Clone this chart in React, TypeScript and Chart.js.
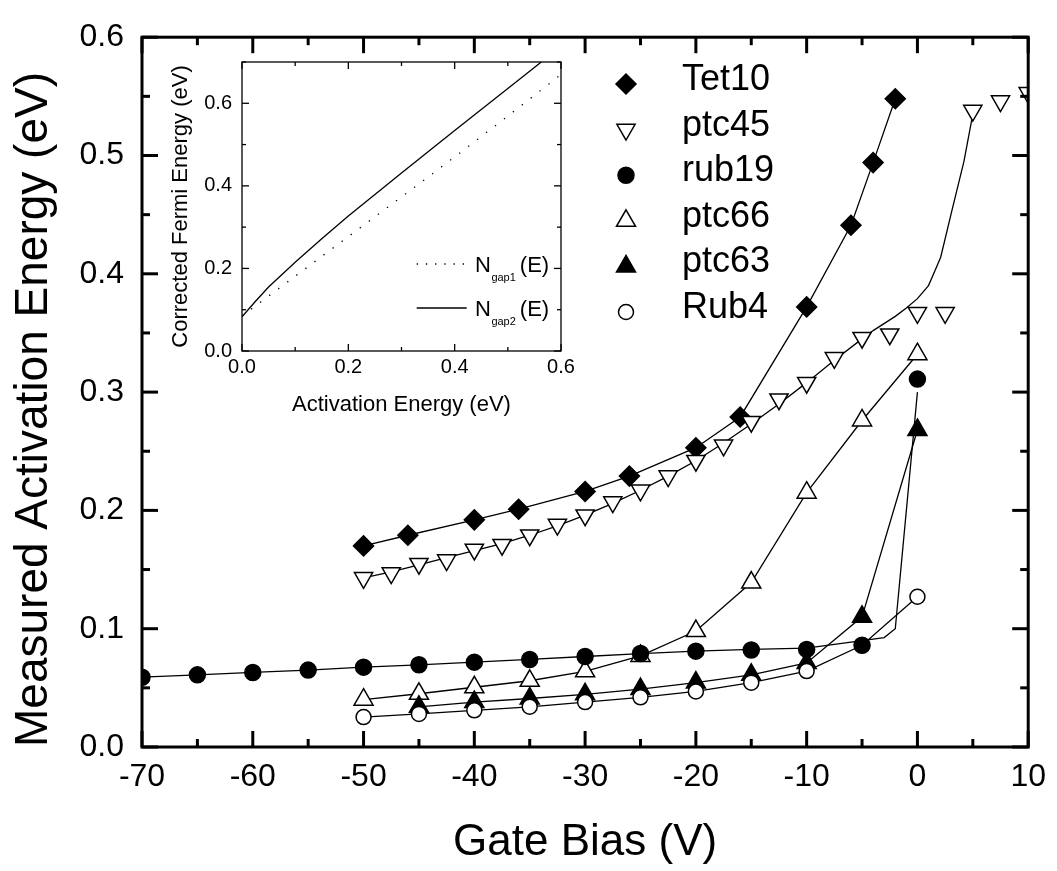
import React, { useEffect, useRef } from 'react';
import { Chart, registerables } from 'chart.js';
import { drawPoint } from 'chart.js/helpers';

Chart.register(...registerables);

const FONT = "'Liberation Sans', Arial, Helvetica, sans-serif";

// ---------- main chart data ----------
const xTickValues = [-70, -60, -50, -40, -30, -20, -10, 0, 10];
const yTickValues = [0, 0.1, 0.2, 0.3, 0.4, 0.5, 0.6];

const gateTet10 = [-50, -46, -40, -36, -30, -26, -20, -16, -10, -6, -4, -2];
const eTet10 = [0.170, 0.179, 0.192, 0.201, 0.216, 0.229, 0.253, 0.279, 0.372, 0.441, 0.494, 0.548];

const gatePtc45 = [-50, -47.5, -45, -42.5, -40, -37.5, -35, -32.5, -30, -27.5, -25, -22.5, -20, -17.5, -15, -12.5, -10, -7.5, -5, -2.5, 0, 2.5, 5, 7.5, 10];
const ePtc45 = [0.143, 0.147, 0.155, 0.158, 0.167, 0.171, 0.179, 0.188, 0.196, 0.207, 0.217, 0.229, 0.242, 0.255, 0.275, 0.294, 0.308, 0.329, 0.346, 0.349, 0.367, 0.367, 0.538, 0.546, 0.553];
const fitGatePtc45 = [-50, -47.5, -45, -42.5, -40, -37.5, -35, -32.5, -30, -27.5, -25, -22.5, -20, -17.5, -15, -12.5, -10, -7.5, -5, -4, -2, -1, 0, 1, 1.6, 2.1, 3.1, 4.2, 5];
const fitPtc45 = [0.143, 0.148, 0.154, 0.160, 0.166, 0.172, 0.179, 0.187, 0.196, 0.206, 0.217, 0.229, 0.242, 0.257, 0.273, 0.290, 0.308, 0.327, 0.345, 0.352, 0.364, 0.371, 0.379, 0.390, 0.403, 0.414, 0.453, 0.495, 0.535];

const gateRub19 = [-70, -65, -60, -55, -50, -45, -40, -35, -30, -25, -20, -15, -10, -5, 0];
const eRub19 = [0.059, 0.061, 0.063, 0.065, 0.0675, 0.0695, 0.0717, 0.074, 0.0765, 0.079, 0.081, 0.082, 0.0825, 0.086, 0.311];
const fitGateRub19 = [-70, -65, -60, -55, -50, -45, -40, -35, -30, -25, -20, -15, -10, -3, -2, 0];
const fitRub19 = [0.059, 0.061, 0.063, 0.065, 0.0675, 0.0695, 0.0717, 0.074, 0.0765, 0.079, 0.081, 0.0825, 0.0835, 0.0925, 0.100, 0.300];

const gatePtc66 = [-50, -45, -40, -35, -30, -25, -20, -15, -10, -5, 0];
const ePtc66 = [0.040, 0.045, 0.0505, 0.056, 0.064, 0.077, 0.098, 0.139, 0.215, 0.276, 0.332];

const gatePtc63 = [-45, -40, -35, -30, -25, -20, -15, -10, -5, 0];
const ePtc63 = [0.034, 0.038, 0.041, 0.0445, 0.049, 0.0545, 0.061, 0.071, 0.110, 0.268];

const gateRub4 = [-50, -45, -40, -35, -30, -25, -20, -15, -10, -5, 0];
const eRub4 = [0.0253, 0.028, 0.031, 0.034, 0.038, 0.042, 0.047, 0.0544, 0.0642, 0.086, 0.127];

const legendNames = ['Tet10', 'ptc45', 'rub19', 'ptc66', 'ptc63', 'Rub4'];

// ---------- inset data ----------
const insetXTicks = [0, 0.2, 0.4, 0.6];
const insetYTicks = [0, 0.2, 0.4, 0.6];
const actE1 = [0, 0.05, 0.1, 0.15, 0.2, 0.3, 0.4, 0.5, 0.6];
const fermiNgap1 = [0.085, 0.133, 0.181, 0.229, 0.277, 0.373, 0.470, 0.569, 0.670];
const actE2 = [0, 0.025, 0.05, 0.1, 0.15, 0.2, 0.3, 0.4, 0.5, 0.563];
const fermiNgap2 = [0.083, 0.12, 0.155, 0.215, 0.272, 0.327, 0.431, 0.534, 0.636, 0.70];

const toXY = (xs: number[], ys: number[]) => xs.map((x, i) => ({ x, y: ys[i] }));

const LINE_W = 1.3;

function strokeLine(ctx: CanvasRenderingContext2D, x1: number, y1: number, x2: number, y2: number) {
  ctx.beginPath();
  ctx.moveTo(x1, y1);
  ctx.lineTo(x2, y2);
  ctx.stroke();
}

const mainFramePlugin = {
  id: 'mainFrame',
  afterDatasetsDraw(chart: any) {
    const { ctx, chartArea: a, scales } = chart;
    const xs = scales.x;
    const ys = scales.y;
    ctx.save();
    ctx.strokeStyle = '#000';
    ctx.lineWidth = 3;
    ctx.strokeRect(a.left, a.top, a.right - a.left, a.bottom - a.top);
    for (let k = 0; k <= 16; k++) {
      const v = -70 + k * 5;
      const px = xs.getPixelForValue(v);
      const len = k % 2 === 0 ? 16 : 8;
      strokeLine(ctx, px, a.bottom, px, a.bottom - len);
      strokeLine(ctx, px, a.top, px, a.top + len);
    }
    for (let k = 0; k <= 12; k++) {
      const v = k * 0.05;
      const py = ys.getPixelForValue(v);
      const len = k % 2 === 0 ? 16 : 8;
      strokeLine(ctx, a.left, py, a.left + len, py);
      strokeLine(ctx, a.right, py, a.right - len, py);
    }
    ctx.restore();
  },
  afterDraw(chart: any) {
    const { ctx } = chart;
    const order = [5, 4, 0, 3, 2, 1];
    ctx.save();
    legendNames.forEach((name, i) => {
      const ds = chart.data.datasets[order[i]];
      const y = 80 + i * 45.6;
      ctx.fillStyle = ds.pointBackgroundColor;
      ctx.strokeStyle = ds.pointBorderColor;
      ctx.lineWidth = ds.pointBorderWidth;
      drawPoint(ctx, { pointStyle: ds.pointStyle, rotation: ds.pointRotation || 0, radius: ds.pointRadius, borderWidth: ds.pointBorderWidth }, 626, y + 4);
      ctx.fillStyle = '#000';
      ctx.font = `36px ${FONT}`;
      ctx.textBaseline = 'middle';
      ctx.textAlign = 'left';
      ctx.fillText(name, 682, y);
    });
    ctx.restore();
  },
};

const insetPlugin = {
  id: 'insetFrame',
  afterDatasetsDraw(chart: any) {
    const { ctx, chartArea: a, scales } = chart;
    const xs = scales.x;
    const ys = scales.y;
    ctx.save();
    ctx.strokeStyle = '#000';
    ctx.lineWidth = 1.3;
    ctx.setLineDash([]);
    ctx.strokeRect(a.left, a.top, a.right - a.left, a.bottom - a.top);
    for (let k = 0; k <= 6; k++) {
      const px = xs.getPixelForValue(k * 0.1);
      const len = k % 2 === 0 ? 7 : 4;
      strokeLine(ctx, px, a.bottom, px, a.bottom - len);
      strokeLine(ctx, px, a.top, px, a.top + len);
    }
    for (let k = 0; k <= 7; k++) {
      const py = ys.getPixelForValue(k * 0.1);
      const len = k % 2 === 0 ? 7 : 4;
      strokeLine(ctx, a.left, py, a.left + len, py);
      strokeLine(ctx, a.right, py, a.right - len, py);
    }
    // legend
    const rows = [
      { y: 224, dash: [1.3, 7.9], sub: 'gap1' },
      { y: 268, dash: [], sub: 'gap2' },
    ];
    rows.forEach((r) => {
      ctx.setLineDash(r.dash);
      ctx.lineWidth = LINE_W;
      strokeLine(ctx, 266.7, r.y, 316.7, r.y);
      ctx.setLineDash([]);
      ctx.fillStyle = '#000';
      ctx.textBaseline = 'alphabetic';
      ctx.textAlign = 'left';
      const base = r.y + 8;
      let x = 325;
      ctx.font = `22px ${FONT}`;
      ctx.fillText('N', x, base);
      x += ctx.measureText('N').width + 0.5;
      ctx.font = `11px ${FONT}`;
      ctx.fillText(r.sub, x, base + 9);
      x += ctx.measureText(r.sub).width + 4;
      ctx.font = `22px ${FONT}`;
      ctx.fillText('(E)', x, base);
    });
    ctx.restore();
  },
};

export default function App() {
  const mainRef = useRef<HTMLCanvasElement | null>(null);
  const insetRef = useRef<HTMLCanvasElement | null>(null);

  useEffect(() => {
    if (!mainRef.current || !insetRef.current) return;
    const tickFont = { family: FONT, size: 32 };
    const main = new Chart(mainRef.current, {
      type: 'scatter',
      data: {
        datasets: [
          { label: 'rub19', data: toXY(gateRub19, eRub19), showLine: false, pointStyle: 'circle', pointRadius: 8, pointBackgroundColor: '#000', pointBorderColor: '#000', pointBorderWidth: 1.5, order: 0 },
          { label: 'Rub4', data: toXY(gateRub4, eRub4), showLine: true, borderColor: '#000', borderWidth: LINE_W, pointStyle: 'circle', pointRadius: 7.5, pointBackgroundColor: '#fff', pointBorderColor: '#000', pointBorderWidth: 1.5, order: 1 },
          { label: 'ptc63', data: toXY(gatePtc63, ePtc63), showLine: true, borderColor: '#000', borderWidth: LINE_W, pointStyle: 'triangle', pointRadius: 11, pointBackgroundColor: '#000', pointBorderColor: '#000', pointBorderWidth: 1.5, order: 2 },
          { label: 'ptc66', data: toXY(gatePtc66, ePtc66), showLine: true, borderColor: '#000', borderWidth: LINE_W, pointStyle: 'triangle', pointRadius: 11, pointBackgroundColor: '#fff', pointBorderColor: '#000', pointBorderWidth: 1.5, order: 3 },
          { label: 'ptc45', data: toXY(gatePtc45, ePtc45), showLine: false, pointStyle: 'triangle', pointRotation: 180, pointRadius: 10.5, pointBackgroundColor: '#fff', pointBorderColor: '#000', pointBorderWidth: 1.5, order: 4 },
          { label: 'Tet10', data: toXY(gateTet10, eTet10), showLine: true, borderColor: '#000', borderWidth: LINE_W, pointStyle: 'rectRot', pointRadius: 10, pointBackgroundColor: '#000', pointBorderColor: '#000', pointBorderWidth: 1.5, order: 5 },
          { label: 'ptc45 fit', data: toXY(fitGatePtc45, fitPtc45), showLine: true, borderColor: '#000', borderWidth: LINE_W, pointRadius: 0, order: 6 },
          { label: 'rub19 fit', data: toXY(fitGateRub19, fitRub19), showLine: true, borderColor: '#000', borderWidth: LINE_W, pointRadius: 0, order: 7 },
        ] as any,
      },
      options: {
        animation: false,
        responsive: false,
        maintainAspectRatio: false,
        events: [],
        layout: { padding: { left: 0, right: 24, top: 27, bottom: 0 } },
        plugins: { legend: { display: false }, tooltip: { enabled: false } },
        scales: {
          x: {
            type: 'linear',
            min: -70,
            max: 10,
            afterBuildTicks: (s: any) => { s.ticks = xTickValues.map((v) => ({ value: v })); },
            afterFit: (s: any) => { s.height = 124; },
            ticks: { font: tickFont, color: '#000', padding: 11, maxRotation: 0, autoSkip: false, callback: (v: any) => String(v) },
            grid: { display: false, drawTicks: false },
            border: { display: false },
            title: { display: true, text: 'Gate Bias (V)', color: '#000', font: { family: FONT, size: 44 }, padding: { top: 0, bottom: 2 } },
          },
          y: {
            type: 'linear',
            min: 0,
            max: 0.6,
            afterBuildTicks: (s: any) => { s.ticks = yTickValues.map((v) => ({ value: v })); },
            afterFit: (s: any) => { s.width = 142; },
            ticks: { font: tickFont, color: '#000', padding: 18, autoSkip: false, callback: (v: any) => Number(v).toFixed(1) },
            grid: { display: false, drawTicks: false },
            border: { display: false },
            title: { display: true, text: 'Measured Activation Energy (eV)', align: 'start', color: '#000', font: { family: FONT, size: 46 }, padding: { top: 7, bottom: 0 } },
          },
        },
      } as any,
      plugins: [mainFramePlugin],
    });

    const inset = new Chart(insetRef.current, {
      type: 'scatter',
      data: {
        datasets: [
          { label: 'Ngap1(E)', data: toXY(actE1, fermiNgap1), showLine: true, borderColor: '#000', borderWidth: LINE_W, borderDash: [1.3, 10], pointRadius: 0 },
          { label: 'Ngap2(E)', data: toXY(actE2, fermiNgap2), showLine: true, borderColor: '#000', borderWidth: LINE_W, pointRadius: 0 },
        ] as any,
      },
      options: {
        animation: false,
        responsive: false,
        maintainAspectRatio: false,
        events: [],
        layout: { padding: { left: 0, right: 39, top: 19, bottom: 0 } },
        plugins: { legend: { display: false }, tooltip: { enabled: false } },
        scales: {
          x: {
            type: 'linear',
            min: 0,
            max: 0.6,
            afterBuildTicks: (s: any) => { s.ticks = insetXTicks.map((v) => ({ value: v })); },
            afterFit: (s: any) => { s.height = 79; },
            ticks: { font: { family: FONT, size: 20 }, color: '#000', padding: 4, maxRotation: 0, autoSkip: false, callback: (v: any) => Number(v).toFixed(1) },
            grid: { display: false, drawTicks: false },
            border: { display: false },
            title: { display: true, text: 'Activation Energy (eV)', color: '#000', font: { family: FONT, size: 22 }, padding: { top: 0, bottom: 12 } },
          },
          y: {
            type: 'linear',
            min: 0,
            max: 0.7,
            afterBuildTicks: (s: any) => { s.ticks = insetYTicks.map((v) => ({ value: v })); },
            afterFit: (s: any) => { s.width = 92; },
            ticks: { font: { family: FONT, size: 20 }, color: '#000', padding: 10, autoSkip: false, callback: (v: any) => Number(v).toFixed(1) },
            grid: { display: false, drawTicks: false },
            border: { display: false },
            title: { display: true, text: 'Corrected Fermi Energy (eV)', color: '#000', font: { family: FONT, size: 22 }, padding: { top: 18, bottom: 0 } },
          },
        },
      } as any,
      plugins: [insetPlugin],
    });

    return () => {
      main.destroy();
      inset.destroy();
    };
  }, []);

  return (
    <div style={{ position: 'absolute', left: 0, top: 0, width: 1057, height: 871, background: '#fff' }}>
      <canvas ref={mainRef} width={1057} height={871} style={{ position: 'absolute', left: 0, top: 0, width: 1057, height: 871 }} />
      <canvas ref={insetRef} width={450} height={390} style={{ position: 'absolute', left: 150, top: 40, width: 450, height: 390 }} />
    </div>
  );
}
